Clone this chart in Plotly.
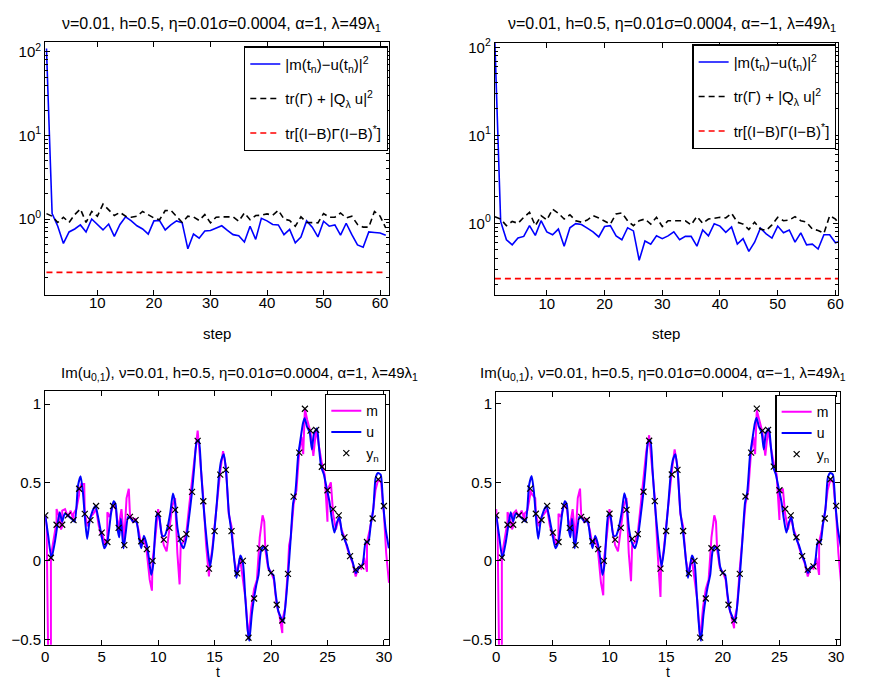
import plotly.graph_objects as go

# ---------------- data: top panels (error vs step) ----------------
steps = list(range(1, 62))

err_a1 = [110, 1.16, 0.82, 0.51, 0.70, 0.76, 0.85, 0.70, 1.0, 0.87, 0.74, 0.87, 0.62, 0.86, 1.06,
          0.95, 0.83, 0.76, 0.66, 0.95, 0.96, 0.74, 0.85, 0.95, 0.90, 0.44, 0.66, 0.59, 0.72, 0.73,
          0.78, 0.83, 0.73, 0.65, 0.63, 0.53, 0.82, 0.57, 1.02, 0.95, 0.86, 0.85, 0.65, 0.75, 0.52,
          0.61, 0.95, 0.80, 0.61, 0.94, 0.82, 0.85, 0.64, 0.89, 0.65, 0.49, 0.46, 0.70, 0.69, 0.68, 0.64]
bound_a1 = [1.16, 1.08, 0.91, 1.05, 0.91, 1.13, 1.32, 0.91, 1.23, 1.08, 1.51, 1.27, 1.10, 1.20, 1.08,
            1.05, 1.08, 1.23, 1.13, 1.03, 0.98, 1.26, 1.27, 1.08, 0.91, 1.08, 1.06, 0.96, 1.13, 0.90,
            1.05, 1.06, 1.06, 1.06, 0.94, 1.18, 0.98, 1.10, 1.11, 1.15, 1.11, 1.27, 1.00, 0.96, 0.82,
            1.06, 0.91, 0.91, 0.90, 1.16, 1.05, 1.05, 1.18, 1.03, 1.08, 0.86, 0.80, 0.80, 1.23, 1.08, 0.78]
trace_a1 = [0.23] * 61

err_am1 = [112, 1.05, 0.65, 0.57, 0.68, 0.71, 0.94, 0.73, 1.07, 0.80, 0.74, 0.86, 0.55, 0.89, 0.99,
           0.97, 0.88, 0.80, 0.70, 0.92, 0.94, 0.72, 0.65, 0.89, 0.82, 0.38, 0.63, 0.58, 0.72, 0.67,
           0.72, 0.80, 0.65, 0.71, 0.71, 0.55, 0.84, 0.72, 0.99, 0.93, 0.79, 0.91, 0.58, 0.67, 0.48,
           0.61, 0.88, 0.76, 0.68, 0.93, 0.78, 0.84, 0.61, 0.78, 0.57, 0.58, 0.51, 0.74, 0.74, 0.60, 0.63]
bound_am1 = [1.19, 1.12, 0.94, 1.05, 1.00, 1.17, 1.33, 0.94, 1.22, 1.09, 1.45, 1.30, 1.12, 1.25, 1.07,
             1.03, 1.09, 1.22, 1.15, 1.05, 0.98, 1.28, 1.31, 1.07, 0.94, 1.07, 1.12, 0.98, 1.17, 0.92,
             1.07, 1.07, 1.07, 1.07, 0.96, 1.20, 1.00, 1.12, 1.14, 1.17, 1.15, 1.30, 1.03, 0.98, 0.85,
             1.03, 0.86, 0.83, 0.96, 1.17, 1.07, 1.09, 1.19, 1.07, 1.03, 0.86, 0.83, 0.77, 1.22, 1.12, 0.90]
trace_am1 = [0.235] * 61

# ---------------- data: bottom panels (Im(u_{0,1}) vs t) ----------------
u_t = [0, 0.26, 0.55, 0.85, 1.08, 1.28, 1.49, 1.72, 2.0, 2.3, 2.6, 2.9, 3.13, 3.33, 3.54, 3.71, 3.92,
       4.2, 4.44, 4.65, 4.94, 5.23, 5.52, 5.82, 6.05, 6.23, 6.4, 6.55, 6.7, 6.93, 7.13, 7.34, 7.57,
       7.8, 8.07, 8.3, 8.5, 8.74, 9.0, 9.18, 9.38, 9.56, 9.73, 9.9, 10.1, 10.35, 10.58, 10.8, 11.08,
       11.31, 11.5, 11.72, 11.96, 12.25, 12.48, 12.69, 13.0, 13.2, 13.42, 13.6, 13.8, 14.0, 14.2,
       14.44, 14.6, 14.8, 15.0, 15.2, 15.4, 15.6, 15.82, 16.03, 16.26, 16.5, 16.76, 16.93, 17.13,
       17.28, 17.51, 17.72, 17.93, 18.07, 18.3, 18.5, 18.68, 18.89, 19.1, 19.33, 19.56, 19.76, 20.0,
       20.2, 20.41, 20.64, 20.87, 21.08, 21.28, 21.52, 21.72, 21.96, 22.16, 22.4, 22.6, 22.84, 22.98,
       23.19, 23.42, 23.62, 23.8, 24.07, 24.24, 24.44, 24.68, 24.94, 25.17, 25.38, 25.61, 25.82,
       26.05, 26.28, 26.49, 26.72, 26.98, 27.22, 27.51, 27.8, 28.1, 28.39, 28.62, 28.83, 29.06,
       29.27, 29.48, 29.71, 29.91, 30.15, 30.44]
u_v = [0.29, 0.16, 0.017, 0.12, 0.23, 0.31, 0.25, 0.30, 0.29, 0.27, 0.25, 0.48, 0.54, 0.44, 0.25,
       0.14, 0.25, 0.32, 0.35, 0.29, 0.18, 0.08, 0.13, 0.30, 0.38, 0.36, 0.205, 0.15, 0.27, 0.08,
       0.18, 0.28, 0.27, 0.25, 0.25, 0.15, 0.08, 0.16, 0.10, 0.017, -0.09, -0.025, 0.18, 0.30, 0.28,
       0.16, 0.16, 0.205, 0.31, 0.43, 0.37, 0.205, 0.12, 0.08, 0.14, 0.25, 0.44, 0.60, 0.76, 0.77,
       0.58, 0.37, 0.205, 0.04, -0.035, 0.06, 0.205, 0.37, 0.55, 0.645, 0.68, 0.56, 0.31, 0.18,
       -0.004, -0.11, -0.025, 0.034, -0.015, -0.235, -0.44, -0.51, -0.34, -0.235, -0.16, -0.09, 0.06,
       0.09, 0.07, -0.036, -0.078, -0.088, -0.21, -0.32, -0.36, -0.39, -0.28, -0.078, 0.12, 0.37,
       0.44, 0.67, 0.77, 0.88, 0.91, 0.855, 0.82, 0.71, 0.81, 0.845, 0.73, 0.60, 0.55, 0.46, 0.38,
       0.27, 0.18, 0.24, 0.28, 0.18, 0.14, 0.10, 0.038, -0.004, -0.078, -0.04, -0.025, 0.12, 0.12,
       0.23, 0.33, 0.53, 0.56, 0.55, 0.38, 0.205, 0.08]

obs_t = [0, 0.5, 1, 1.5, 2, 2.5, 3, 3.5, 4, 4.5, 5, 5.5, 6, 6.5, 7, 7.5, 8, 8.5, 9, 9.5, 10, 10.5,
         11, 11.5, 12, 12.5, 13, 13.5, 14, 14.5, 15, 15.5, 16, 16.5, 17, 17.5, 18, 18.5, 19, 19.5,
         20, 20.5, 21, 21.5, 22, 22.5, 23, 23.5, 24, 24.5, 25, 25.5, 26, 26.5, 27, 27.5, 28, 28.5,
         29, 29.5, 30]
obs_y = [0.29, 0.02, 0.23, 0.23, 0.29, 0.26, 0.46, 0.30, 0.26, 0.35, 0.18, 0.12, 0.35, 0.21, 0.10,
         0.28, 0.26, 0.125, 0.075, 0.0, 0.30, 0.135, 0.21, 0.325, 0.14, 0.17, 0.44, 0.765, 0.38,
         -0.05, 0.19, 0.55, 0.58, 0.19, -0.08, 0.0, -0.49, -0.24, 0.08, 0.083, -0.077, -0.28, -0.38,
         -0.083, 0.41, 0.69, 0.97, 0.83, 0.835, 0.60, 0.45, 0.33, 0.29, 0.15, 0.03, -0.056, -0.035,
         0.12, 0.27, 0.52, 0.35]

m1_t = [0, 0.12, 0.25, 0.5, 0.5, 0.75, 1.0, 1.0, 1.25, 1.4, 1.5, 1.5, 1.75, 2.0, 2.25, 2.5, 2.5,
        2.75, 3.0, 3.0, 3.2, 3.45, 3.5, 3.75, 4.0, 4.25, 4.5, 4.75, 5.0, 5.0, 5.3, 5.5, 5.5, 5.7,
        6.0, 6.25, 6.5, 6.5, 6.75, 7.0, 7.0, 7.2, 7.4, 7.5, 7.75, 8.0, 8.25, 8.5, 8.75, 9.0, 9.25,
        9.45, 9.5, 9.75, 10.0, 10.25, 10.5, 10.75, 11.0, 11.25, 11.5, 11.7, 11.9, 12.0, 12.25, 12.5,
        12.75, 13.0, 13.25, 13.5, 13.75, 14.0, 14.25, 14.5, 14.55, 14.8, 15.0, 15.25, 15.5, 15.75,
        16.0, 16.25, 16.5, 16.75, 17.0, 17.25, 17.5, 17.75, 18.0, 18.25, 18.5, 18.75, 19.0, 19.25,
        19.4, 19.5, 19.75, 20.0, 20.25, 20.5, 20.75, 21.0, 21.0, 21.25, 21.5, 21.6, 21.75, 22.0,
        22.25, 22.5, 22.7, 22.85, 23.0, 23.2, 23.5, 23.75, 24.0, 24.25, 24.5, 24.75, 25.0, 25.0,
        25.3, 25.5, 25.75, 26.0, 26.25, 26.5, 26.75, 27.0, 27.25, 27.5, 27.75, 28.0, 28.25, 28.5,
        28.5, 28.75, 29.0, 29.25, 29.5, 29.75, 30.0, 30.2, 30.45]
m1_v = [0.29, 0.22, -0.56, -0.56, 0.03, 0.15, 0.25, 0.33, 0.28, 0.20, 0.22, 0.32, 0.33, 0.28, 0.32,
        0.26, 0.30, 0.33, 0.42, 0.45, 0.49, 0.49, 0.30, 0.22, 0.28, 0.30, 0.33, 0.22, 0.15, 0.19,
        0.10, 0.14, 0.31, 0.28, 0.36, 0.33, 0.18, 0.22, 0.33, 0.12, 0.14, 0.40, 0.46, 0.30, 0.25,
        0.27, 0.20, 0.10, 0.15, 0.05, -0.12, -0.19, 0.0, 0.15, 0.33, 0.20, 0.10, 0.06, 0.20, 0.35,
        0.40, 0.05, -0.15, 0.10, 0.12, 0.18, 0.35, 0.52, 0.70, 0.83, 0.62, 0.40, 0.10, -0.10, -0.05,
        0.08, 0.22, 0.40, 0.57, 0.70, 0.60, 0.30, 0.22, 0.0, -0.08, 0.02, -0.11, -0.25, -0.50,
        -0.30, -0.18, -0.12, 0.15, 0.29, 0.25, 0.07, -0.05, -0.07, -0.12, -0.28, -0.35, -0.46,
        -0.38, -0.30, -0.05, 0.10, 0.15, 0.36, 0.45, 0.70, 0.79, 0.68, 0.97, 0.90, 0.82, 0.67, 0.84,
        0.72, 0.62, 0.55, 0.25, 0.45, 0.50, 0.30, 0.20, 0.28, 0.20, 0.15, 0.08, 0.03, -0.02, -0.10,
        -0.04, -0.05, 0.02, -0.07, 0.12, 0.20, 0.30, 0.45, 0.52, 0.50, 0.30, 0.05, -0.14]

m2_t = [0, 0.12, 0.25, 0.5, 0.5, 0.75, 1.0, 1.0, 1.25, 1.4, 1.5, 1.5, 1.75, 2.0, 2.25, 2.5, 2.5,
        2.75, 3.0, 3.0, 3.2, 3.45, 3.5, 3.75, 4.0, 4.25, 4.5, 4.75, 5.0, 5.0, 5.3, 5.5, 5.5, 5.7,
        6.0, 6.25, 6.5, 6.5, 6.75, 7.0, 7.0, 7.2, 7.4, 7.5, 7.75, 8.0, 8.25, 8.5, 8.75, 9.0, 9.25,
        9.45, 9.5, 9.75, 10.0, 10.25, 10.5, 10.75, 11.0, 11.25, 11.5, 11.7, 11.9, 12.0, 12.25, 12.5,
        12.75, 13.0, 13.25, 13.5, 13.75, 14.0, 14.25, 14.5, 14.55, 14.8, 15.0, 15.25, 15.5, 15.75,
        16.0, 16.25, 16.5, 16.75, 17.0, 17.25, 17.5, 17.75, 18.0, 18.25, 18.5, 18.75, 19.0, 19.25,
        19.4, 19.5, 19.75, 20.0, 20.25, 20.5, 20.75, 21.0, 21.0, 21.25, 21.5, 21.6, 21.75, 22.0,
        22.25, 22.5, 22.7, 22.85, 23.0, 23.2, 23.5, 23.75, 24.0, 24.25, 24.5, 24.75, 25.0, 25.0,
        25.3, 25.5, 25.75, 26.0, 26.25, 26.5, 26.75, 27.0, 27.25, 27.5, 27.75, 28.0, 28.25, 28.5,
        28.5, 28.75, 29.0, 29.25, 29.5, 29.75, 30.0, 30.2, 30.45]
m2_v = [0.33, 0.22, -0.56, -0.56, 0.03, 0.15, 0.25, 0.31, 0.26, 0.20, 0.22, 0.30, 0.32, 0.28, 0.32,
        0.26, 0.30, 0.32, 0.42, 0.45, 0.42, 0.40, 0.30, 0.22, 0.28, 0.30, 0.33, 0.22, 0.15, 0.19,
        0.10, 0.14, 0.30, 0.28, 0.36, 0.33, 0.18, 0.22, 0.33, 0.12, 0.14, 0.40, 0.46, 0.30, 0.25,
        0.27, 0.20, 0.10, 0.15, 0.05, -0.14, -0.22, 0.0, 0.15, 0.33, 0.20, 0.10, 0.06, 0.20, 0.35,
        0.40, 0.05, -0.13, 0.10, 0.12, 0.18, 0.35, 0.52, 0.70, 0.80, 0.62, 0.40, 0.05, -0.23, -0.05,
        0.08, 0.22, 0.40, 0.57, 0.71, 0.60, 0.30, 0.22, 0.0, -0.08, 0.02, -0.11, -0.25, -0.50,
        -0.30, -0.18, -0.12, 0.15, 0.29, 0.25, 0.07, -0.05, -0.07, -0.12, -0.28, -0.35, -0.43,
        -0.38, -0.30, -0.05, 0.04, 0.15, 0.36, 0.45, 0.70, 0.79, 0.68, 0.96, 0.90, 0.82, 0.67, 0.84,
        0.72, 0.62, 0.55, 0.26, 0.44, 0.46, 0.30, 0.20, 0.28, 0.20, 0.15, 0.08, 0.03, -0.02, -0.10,
        -0.04, -0.05, 0.02, -0.09, 0.12, 0.20, 0.30, 0.45, 0.52, 0.50, 0.30, 0.05, -0.15]

title_top_1 = "ν=0.01, h=0.5, η=0.01σ=0.0004, α=1, λ=49λ<sub>1</sub>"
title_top_2 = "ν=0.01, h=0.5, η=0.01σ=0.0004, α=−1, λ=49λ<sub>1</sub>"
title_bot_1 = "Im(u<sub>0,1</sub>), ν=0.01, h=0.5, η=0.01σ=0.0004, α=1, λ=49λ<sub>1</sub>"
title_bot_2 = "Im(u<sub>0,1</sub>), ν=0.01, h=0.5, η=0.01σ=0.0004, α=−1, λ=49λ<sub>1</sub>"

name_err = "|m(t<sub>n</sub>)−u(t<sub>n</sub>)|<sup>2</sup>"
name_bound = "tr(Γ) + |Q<sub>λ</sub> u|<sup>2</sup>"
name_trace = "tr[(I−B)Γ(I−B)<sup>*</sup>]"

# ---------------- figure ----------------
W, H = 874, 682
FONT = "Liberation Sans, Arial, sans-serif"
BLUE = "#0000ff"
MAG = "#ff00ff"
RED = "#ff0000"
DASH = "6px,4px"

fig = go.Figure()

def top_traces(xa, ya, leg, err, bound, tr):
    fig.add_trace(go.Scatter(x=steps, y=err, mode="lines", name=name_err,
                             line=dict(color=BLUE, width=1.6), xaxis=xa, yaxis=ya,
                             legend=leg, legendgroup=leg + "a"))
    fig.add_trace(go.Scatter(x=steps, y=bound, mode="lines", name=name_bound,
                             line=dict(color="black", width=1.6, dash=DASH), xaxis=xa, yaxis=ya,
                             legend=leg, legendgroup=leg + "b"))
    fig.add_trace(go.Scatter(x=steps, y=tr, mode="lines", name=name_trace,
                             line=dict(color=RED, width=1.6, dash=DASH), xaxis=xa, yaxis=ya,
                             legend=leg, legendgroup=leg + "c"))

def bot_traces(xa, ya, leg, mt, mv):
    fig.add_trace(go.Scatter(x=mt, y=mv, mode="lines", name="m",
                             line=dict(color=MAG, width=2), xaxis=xa, yaxis=ya, legend=leg))
    fig.add_trace(go.Scatter(x=u_t, y=u_v, mode="lines", name="u",
                             line=dict(color=BLUE, width=2, shape="spline", smoothing=0.6),
                             xaxis=xa, yaxis=ya, legend=leg))
    fig.add_trace(go.Scatter(x=obs_t, y=obs_y, mode="markers", name="y<sub>n</sub>",
                             marker=dict(symbol="x-thin", size=6, color="black",
                                         line=dict(color="black", width=1.2)),
                             xaxis=xa, yaxis=ya, legend=leg))

top_traces("x", "y", "legend", err_a1, bound_a1, trace_a1)
top_traces("x2", "y2", "legend2", err_am1, bound_am1, trace_am1)
bot_traces("x3", "y3", "legend3", m1_t, m1_v)
bot_traces("x4", "y4", "legend4", m2_t, m2_v)

def px(x):
    return x / W

def py(y):
    return 1 - y / H

axis_common = dict(showline=True, linecolor="black", linewidth=1.3, mirror="ticks",
                   ticks="inside", ticklen=5, tickcolor="black", tickwidth=1,
                   showgrid=False, zeroline=False,
                   tickfont=dict(family=FONT, size=15, color="black"))

log_minor = dict(ticks="inside", ticklen=3, tickcolor="black",
                 tickvals=[0.2, 0.3, 0.4, 0.5, 0.6, 0.7, 0.8, 0.9,
                           2, 3, 4, 5, 6, 7, 8, 9, 20, 30, 40, 50, 60, 70, 80, 90])

leg_top = dict(xanchor="right", yanchor="top", bgcolor="white", bordercolor="black",
               borderwidth=1.3, font=dict(family=FONT, size=15, color="black"),
               tracegroupgap=12, itemwidth=30)
leg_bot = dict(xanchor="right", yanchor="top", bgcolor="white", bordercolor="black",
               borderwidth=1.3, font=dict(family=FONT, size=14, color="black"),
               tracegroupgap=0, itemwidth=30)

fig.update_layout(
    width=W, height=H, margin=dict(l=0, r=0, t=0, b=0),
    paper_bgcolor="white", plot_bgcolor="white",
    font=dict(family=FONT, size=13, color="black"),
    xaxis=dict(domain=[px(41.7), px(389)], anchor="y", range=[0.79, 61.57],
               tickvals=[10, 20, 30, 40, 50, 60], ticklabelstandoff=-6, **axis_common),
    yaxis=dict(domain=[py(293), py(36)], anchor="x", type="log", range=[-0.911, 2.124],
               tickvals=[1, 10, 100],
               ticktext=["10<sup>0</sup>", "10<sup>1</sup>", "10<sup>2</sup>"],
               minor=log_minor, **axis_common),
    xaxis2=dict(domain=[px(496), px(843)], anchor="y2", range=[1.0, 60.5],
                tickvals=[10, 20, 30, 40, 50, 60], ticklabelstandoff=-6, **axis_common),
    yaxis2=dict(domain=[py(293.3), py(37)], anchor="x2", type="log", range=[-0.82, 2.056],
                tickvals=[1, 10, 100],
                ticktext=["10<sup>0</sup>", "10<sup>1</sup>", "10<sup>2</sup>"],
                minor=log_minor, **axis_common),
    xaxis3=dict(domain=[px(41.7), px(389)], anchor="y3", range=[0, 30.45],
                tickvals=[0, 5, 10, 15, 20, 25, 30], ticklabelstandoff=-2, **axis_common),
    yaxis3=dict(domain=[py(647.3), py(390)], anchor="x3", range=[-0.535, 1.084],
                tickvals=[-0.5, 0, 0.5, 1], ticktext=["−0.5", "0", "0.5", "1"], **axis_common),
    xaxis4=dict(domain=[px(497.3), px(845)], anchor="y4", range=[0, 30.37],
                tickvals=[0, 5, 10, 15, 20, 25, 30], ticklabelstandoff=-2, **axis_common),
    yaxis4=dict(domain=[py(647.3), py(391)], anchor="x4", range=[-0.535, 1.077],
                tickvals=[-0.5, 0, 0.5, 1], ticktext=["−0.5", "0", "0.5", "1"], **axis_common),
    legend=dict(x=px(388), y=py(41), **leg_top),
    legend2=dict(x=px(841), y=py(39), **leg_top),
    legend3=dict(x=px(386), y=py(393), **leg_bot),
    legend4=dict(x=px(841), y=py(394), **leg_bot),
    showlegend=True,
)

annots = [
    (title_top_1, px(220), py(19), 16),
    (title_top_2, px(675), py(19), 16),
    (title_bot_1, px(238), py(372), 15),
    (title_bot_2, px(666), py(372), 15),
    ("step", px(215), py(332), 15),
    ("step", px(669), py(332), 15),
    ("t", px(216), py(675), 14),
    ("t", px(671), py(675), 14),
]
for text, x, y, fs in annots:
    fig.add_annotation(text=text, x=x, y=y, xref="paper", yref="paper", showarrow=False,
                       xanchor="center", yanchor="middle",
                       font=dict(family=FONT, size=fs, color="black"))

fig.write_html("out.html",
               config={"displayModeBar": False},
               post_script="document.body.style.margin='0';document.body.style.overflow='hidden';")
